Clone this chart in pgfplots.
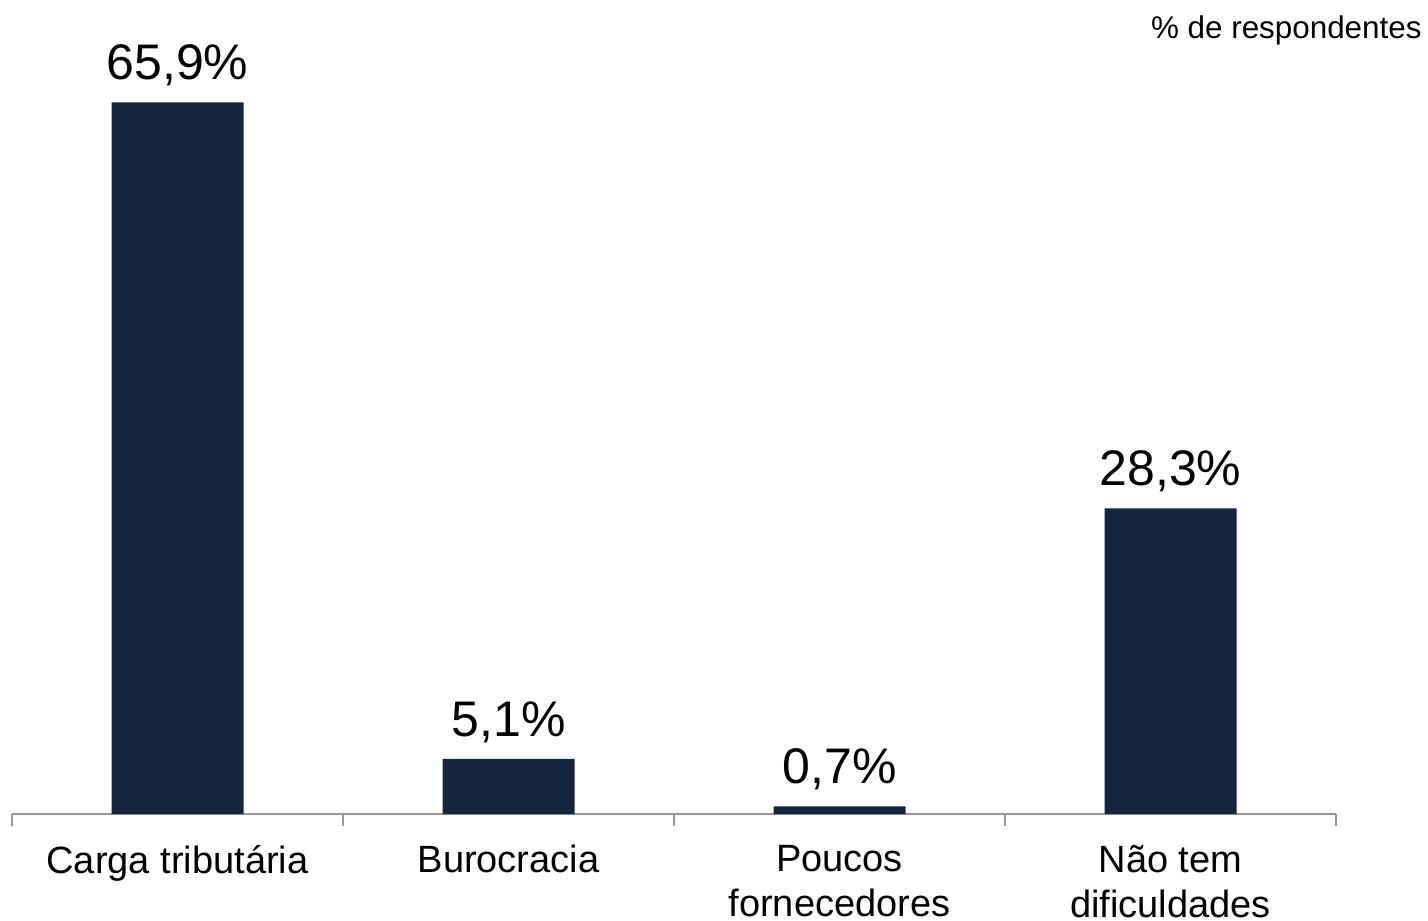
\documentclass[border=0pt]{standalone}
\usepackage{fontspec}
\setmainfont{Liberation Sans}
\usepackage{pgfplots}
\pgfplotsset{compat=1.18}
\definecolor{barnavy}{HTML}{13253F}
\definecolor{axgray}{HTML}{969696}
\begin{document}
\begin{tikzpicture}[x=1pt,y=1pt]
\useasboundingbox (0,0) rectangle (714,460);
\begin{axis}[
  at={(6pt,53pt)}, anchor=south west,
  width=662pt, height=392pt, scale only axis,
  ybar, bar width=66pt,
  xmin=-0.5, xmax=3.5, ymin=0, ymax=72.6,
  axis x line*=bottom, axis y line=none,
  axis line style={axgray, line width=0.9pt},
  xtick={0,1,2,3},
  xticklabels={Carga tributária, Burocracia, Poucos\\fornecedores, Não tem\\dificuldades},
  major tick length=0pt,
  extra x ticks={-0.5,0.5,1.5,2.5,3.5},
  extra x tick labels={},
  extra x tick style={major tick length=6pt, tick align=outside, tick style={axgray, line width=0.9pt}},
  xticklabel style={font=\fontsize{19}{22.5}\selectfont, align=center, yshift=-12pt},
  /pgf/number format/assume math mode=true,
  nodes near coords={\pgfmathprintnumber[fixed, fixed zerofill, precision=1, use comma]{\pgfplotspointmeta}\%},
  every node near coord/.append style={font=\fontsize{25}{28}\selectfont, anchor=south, inner sep=0pt, yshift=8pt, black},
]
\addplot[fill=barnavy, draw=none] coordinates {(0,65.9) (1,5.1) (2,0.7) (3,28.3)};
\end{axis}
\node[anchor=east, inner sep=0pt, font=\fontsize{15.7}{18}\selectfont] at (711,445) {\% de respondentes};
\end{tikzpicture}
\end{document}
